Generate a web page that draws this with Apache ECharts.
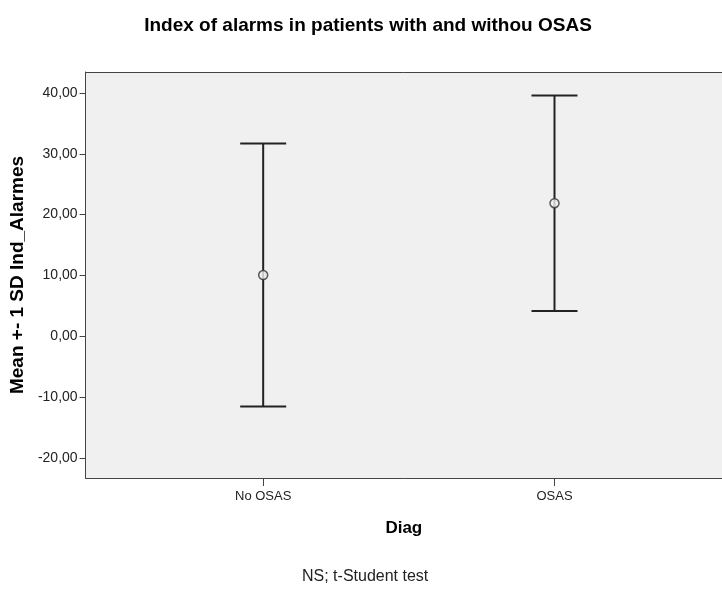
<!DOCTYPE html>
<html>
<head>
<meta charset="utf-8">
<script src="https://cdn.jsdelivr.net/npm/echarts@6/dist/echarts.min.js"></script>
<style>
  html, body { margin: 0; padding: 0; background: #ffffff; }
  #chart { width: 722px; height: 590px; }
</style>
</head>
<body>
<div id="chart"></div>
<script>
// Groups and their statistics for Ind_Alarmes
const categories = ['No OSAS', 'OSAS'];
const means = [10.07, 21.88];
const sds = [21.63, 17.71];
const yTicks = [-20, -10, 0, 10, 20, 30, 40];

const FONT = '"Liberation Sans", Arial, sans-serif';
const INK = '#222222';
const FRAME = '#444444';

// Each group sits at x = 1, 2 on a numeric axis so the spacing can be controlled
const positions = categories.map((_, i) => i + 1);
const barData = positions.map((x, i) => [x, means[i] - sds[i], means[i] + sds[i]]);
const meanData = positions.map((x, i) => [x, means[i]]);

const chart = echarts.init(document.getElementById('chart'), null, { renderer: 'canvas' });

chart.setOption({
  animation: false,
  backgroundColor: '#ffffff',
  title: {
    text: 'Index of alarms in patients with and withou OSAS',
    left: 363, top: 11, textAlign: 'center',
    textStyle: { fontFamily: FONT, fontSize: 19, fontWeight: 'bold', color: '#000' }
  },
  graphic: [{
    type: 'text', left: 302, top: 569,
    style: { text: 'NS; t-Student test', font: '16px ' + FONT, fill: '#222' }
  }],
  grid: {
    left: 84, top: 72, right: 0, bottom: 112,
    show: true, backgroundColor: '#f0f0f0', borderWidth: 0
  },
  xAxis: [{
    type: 'value', min: 0.3904, max: 2.575, position: 'bottom',
    name: 'Diag', nameLocation: 'middle', nameGap: 42,
    nameTextStyle: { fontFamily: FONT, fontSize: 17, fontWeight: 'bold', color: '#000' },
    axisLine: { show: true, onZero: false, lineStyle: { color: FRAME, width: 1 } },
    splitLine: { show: false },
    axisTick: { show: true, length: 8, lineStyle: { color: FRAME }, customValues: positions },
    axisLabel: {
      customValues: positions, margin: 12,
      fontFamily: FONT, fontSize: 13, color: '#222',
      formatter: v => categories[Math.round(v) - 1] || ''
    }
  }, {
    // top edge of the plot frame
    type: 'value', min: 0.3904, max: 2.575, position: 'top',
    axisLine: { show: true, onZero: false, lineStyle: { color: FRAME, width: 1 } },
    axisTick: { show: false }, axisLabel: { show: false }, splitLine: { show: false }
  }],
  yAxis: {
    type: 'value', min: -23.3, max: 43.45,
    name: 'Mean +- 1 SD Ind_Alarmes', nameLocation: 'middle', nameGap: 54, nameRotate: 90,
    nameTextStyle: { fontFamily: FONT, fontSize: 19, fontWeight: 'bold', color: '#000' },
    axisLine: { show: true, onZero: false, lineStyle: { color: FRAME, width: 1 } },
    splitLine: { show: false },
    axisTick: { show: true, length: 6, lineStyle: { color: FRAME }, customValues: yTicks },
    axisLabel: {
      customValues: yTicks, margin: 8,
      fontFamily: FONT, fontSize: 14, color: '#222',
      formatter: v => v.toFixed(2).replace('.', ',')
    }
  },
  series: [
    {
      // vertical whisker with horizontal caps, mean ± 1 SD
      type: 'custom',
      data: barData,
      renderItem: function (params, api) {
        const x = api.value(0);
        const lo = api.coord([x, api.value(1)]);
        const hi = api.coord([x, api.value(2)]);
        const half = 23;
        const style = { stroke: INK, lineWidth: 2 };
        return {
          type: 'group',
          children: [
            { type: 'line', shape: { x1: hi[0], y1: hi[1], x2: lo[0], y2: lo[1] }, style },
            { type: 'line', shape: { x1: hi[0] - half, y1: hi[1], x2: hi[0] + half, y2: hi[1] }, style },
            { type: 'line', shape: { x1: lo[0] - half, y1: lo[1], x2: lo[0] + half, y2: lo[1] }, style }
          ]
        };
      },
      z: 2
    },
    {
      type: 'scatter',
      data: meanData,
      symbol: 'circle',
      symbolSize: 9,
      itemStyle: { color: '#f0f0f0', borderColor: '#333333', borderWidth: 1.5 },
      z: 3
    }
  ]
});
</script>
</body>
</html>
